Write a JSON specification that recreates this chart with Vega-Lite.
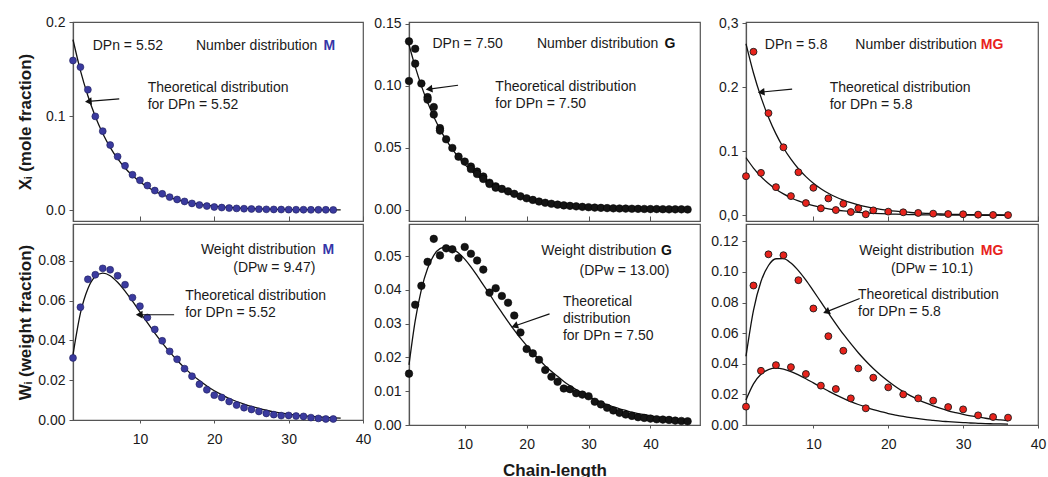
{
"$schema": "https://vega.github.io/schema/vega-lite/v6.json",
"padding": {"left": 15, "top": 14, "right": 5, "bottom": 5},
"background": "white",
"spacing": 0,
"vconcat": [
{"hconcat": [
{"width": 290, "height": 199,
 "encoding": {
  "x": {"field": "x", "type": "quantitative", "scale": {"domain": [1, 40], "nice": false, "zero": false}, "axis": {"values": [10, 20, 30, 40], "labels": false, "tickSize": -5, "title": null}},
  "y": {"field": "y", "type": "quantitative", "scale": {"domain": [-0.0117, 0.2], "nice": false, "zero": false}, "axis": {"values": [0, 0.1, 0.2], "format": ".1f", "title": "Xᵢ (mole fraction)", "minExtent": 35, "maxExtent": 35, "titlePadding": 4}}
 },
 "layer": [
  {"data": {"name": "tl_fit"}, "mark": {"type": "line", "color": "#111", "strokeWidth": 1.3, "interpolate": "monotone"}, "encoding": {}},
  {"data": {"name": "tl_pts"}, "mark": {"type": "point", "filled": true, "size": 48, "fill": "#3a3a9e", "stroke": "#1d1d5c", "strokeWidth": 0.6, "opacity": 1}},
  {"data": {"name": "tl_txt"}, "mark": {"type": "text"}, "encoding": {"text": {"field": "label"}}},
  {"data": {"name": "tl_tag"}, "mark": {"type": "text", "fontWeight": "bold", "color": "#3535a8"}, "encoding": {"text": {"field": "label"}}},
  {"data": {"name": "tl_arrow"}, "mark": {"type": "rule", "color": "#111", "strokeWidth": 1.2}, "encoding": {"x2": {"field": "x2"}, "y2": {"field": "y2"}}},
  {"data": {"name": "tl_head"}, "mark": {"type": "point", "shape": "triangle-left", "filled": true, "color": "#111", "size": 60, "angle": 355, "opacity": 1}}
 ]},
{"width": 291, "height": 199,
 "encoding": {
  "x": {"field": "x", "type": "quantitative", "scale": {"domain": [1, 48], "nice": false, "zero": false}, "axis": {"values": [10, 20, 30, 40], "labels": false, "tickSize": -5, "title": null}},
  "y": {"field": "y", "type": "quantitative", "scale": {"domain": [-0.0089, 0.1516], "nice": false, "zero": false}, "axis": {"values": [0, 0.05, 0.1, 0.15], "format": ".2f", "title": null}}
 },
 "layer": [
  {"data": {"name": "tm_fit"}, "mark": {"type": "line", "color": "#111", "strokeWidth": 1.3, "interpolate": "monotone"}, "encoding": {}},
  {"data": {"name": "tm_pts"}, "mark": {"type": "point", "filled": true, "size": 58, "fill": "#141414", "stroke": "#000", "strokeWidth": 0.5, "opacity": 1}},
  {"data": {"name": "tm_txt"}, "mark": {"type": "text"}, "encoding": {"text": {"field": "label"}}},
  {"data": {"name": "tm_tag"}, "mark": {"type": "text", "fontWeight": "bold", "color": "#111"}, "encoding": {"text": {"field": "label"}}},
  {"data": {"name": "tm_arrow"}, "mark": {"type": "rule", "color": "#111", "strokeWidth": 1.2}, "encoding": {"x2": {"field": "x2"}, "y2": {"field": "y2"}}},
  {"data": {"name": "tm_head"}, "mark": {"type": "point", "shape": "triangle-left", "filled": true, "color": "#111", "size": 60, "angle": 352, "opacity": 1}}
 ]},
{"width": 292, "height": 199,
 "encoding": {
  "x": {"field": "x", "type": "quantitative", "scale": {"domain": [1, 40], "nice": false, "zero": false}, "axis": {"values": [10, 20, 30, 40], "labels": false, "tickSize": -5, "title": null}},
  "y": {"field": "y", "type": "quantitative", "scale": {"domain": [-0.0089, 0.302], "nice": false, "zero": false}, "axis": {"values": [0, 0.1, 0.2, 0.3], "labelExpr": "datum.value == 0.3 ? '0,3' : datum.value == 0 ? '0,0' : format(datum.value, '.1f')", "title": null}}
 },
 "layer": [
  {"data": {"name": "tr_fit"}, "mark": {"type": "line", "color": "#111", "strokeWidth": 1.3, "interpolate": "monotone"}, "encoding": {"detail": {"field": "s"}}},
  {"data": {"name": "tr_pts"}, "mark": {"type": "point", "filled": true, "size": 48, "fill": "#e8231c", "stroke": "#1a1a1a", "strokeWidth": 0.9, "opacity": 1}},
  {"data": {"name": "tr_txt"}, "mark": {"type": "text"}, "encoding": {"text": {"field": "label"}}},
  {"data": {"name": "tr_tag"}, "mark": {"type": "text", "fontWeight": "bold", "color": "#e8231c"}, "encoding": {"text": {"field": "label"}}},
  {"data": {"name": "tr_arrow"}, "mark": {"type": "rule", "color": "#111", "strokeWidth": 1.2}, "encoding": {"x2": {"field": "x2"}, "y2": {"field": "y2"}}},
  {"data": {"name": "tr_head"}, "mark": {"type": "point", "shape": "triangle-left", "filled": true, "color": "#111", "size": 60, "angle": 354.5, "opacity": 1}}
 ]}
], "spacing": 46, "bounds": "flush"},
{"hconcat": [
{"width": 290, "height": 196,
 "encoding": {
  "x": {"field": "x", "type": "quantitative", "scale": {"domain": [1, 40], "nice": false, "zero": false}, "axis": {"values": [10, 20, 30, 40], "tickSize": 3, "labelPadding": 9, "labelFlush": false, "labelOverlap": false, "title": null}},
  "y": {"field": "y", "type": "quantitative", "scale": {"domain": [0, 0.0985], "nice": false, "zero": false}, "axis": {"values": [0, 0.02, 0.04, 0.06, 0.08], "format": ".2f", "title": "Wᵢ (weight fraction)", "minExtent": 35, "maxExtent": 35, "titlePadding": 4}}
 },
 "layer": [
  {"data": {"name": "bl_fit"}, "mark": {"type": "line", "color": "#111", "strokeWidth": 1.3, "interpolate": "monotone"}, "encoding": {}},
  {"data": {"name": "bl_pts"}, "mark": {"type": "point", "filled": true, "size": 48, "fill": "#3a3a9e", "stroke": "#1d1d5c", "strokeWidth": 0.6, "opacity": 1}},
  {"data": {"name": "bl_txt"}, "mark": {"type": "text"}, "encoding": {"text": {"field": "label"}}},
  {"data": {"name": "bl_tag"}, "mark": {"type": "text", "fontWeight": "bold", "color": "#3535a8"}, "encoding": {"text": {"field": "label"}}},
  {"data": {"name": "bl_arrow"}, "mark": {"type": "rule", "color": "#111", "strokeWidth": 1.2}, "encoding": {"x2": {"field": "x2"}, "y2": {"field": "y2"}}},
  {"data": {"name": "bl_head"}, "mark": {"type": "point", "shape": "triangle-left", "filled": true, "color": "#111", "size": 60, "angle": 0, "opacity": 1}}
 ]},
{"width": 291, "height": 201,
 "encoding": {
  "x": {"field": "x", "type": "quantitative", "scale": {"domain": [1, 48], "nice": false, "zero": false}, "axis": {"values": [10, 20, 30, 40], "tickSize": 3, "labelPadding": 9, "labelFlush": false, "labelOverlap": false, "title": "Chain-length", "titlePadding": 11}},
  "y": {"field": "y", "type": "quantitative", "scale": {"domain": [0, 0.0595], "nice": false, "zero": false}, "axis": {"values": [0, 0.01, 0.02, 0.03, 0.04, 0.05], "format": ".2f", "title": null}}
 },
 "layer": [
  {"data": {"name": "bm_fit"}, "mark": {"type": "line", "color": "#111", "strokeWidth": 1.3, "interpolate": "monotone"}, "encoding": {}},
  {"data": {"name": "bm_pts"}, "mark": {"type": "point", "filled": true, "size": 58, "fill": "#141414", "stroke": "#000", "strokeWidth": 0.5, "opacity": 1}},
  {"data": {"name": "bm_txt"}, "mark": {"type": "text"}, "encoding": {"text": {"field": "label"}}},
  {"data": {"name": "bm_tag"}, "mark": {"type": "text", "fontWeight": "bold", "color": "#111"}, "encoding": {"text": {"field": "label"}}},
  {"data": {"name": "bm_arrow"}, "mark": {"type": "rule", "color": "#111", "strokeWidth": 1.2}, "encoding": {"x2": {"field": "x2"}, "y2": {"field": "y2"}}},
  {"data": {"name": "bm_head"}, "mark": {"type": "point", "shape": "triangle-left", "filled": true, "color": "#111", "size": 60, "angle": 340.6, "opacity": 1}}
 ]},
{"width": 292, "height": 201,
 "encoding": {
  "x": {"field": "x", "type": "quantitative", "scale": {"domain": [1, 40], "nice": false, "zero": false}, "axis": {"values": [10, 20, 30, 40], "tickSize": 3, "labelPadding": 9, "labelFlush": false, "labelOverlap": false, "title": null}},
  "y": {"field": "y", "type": "quantitative", "scale": {"domain": [0, 0.1313], "nice": false, "zero": false}, "axis": {"values": [0, 0.02, 0.04, 0.06, 0.08, 0.1, 0.12], "format": ".2f", "title": null}}
 },
 "layer": [
  {"data": {"name": "br_fit"}, "mark": {"type": "line", "color": "#111", "strokeWidth": 1.3, "interpolate": "monotone"}, "encoding": {"detail": {"field": "s"}}},
  {"data": {"name": "br_pts"}, "mark": {"type": "point", "filled": true, "size": 48, "fill": "#e8231c", "stroke": "#1a1a1a", "strokeWidth": 0.9, "opacity": 1}},
  {"data": {"name": "br_txt"}, "mark": {"type": "text"}, "encoding": {"text": {"field": "label"}}},
  {"data": {"name": "br_tag"}, "mark": {"type": "text", "fontWeight": "bold", "color": "#e8231c"}, "encoding": {"text": {"field": "label"}}},
  {"data": {"name": "br_arrow"}, "mark": {"type": "rule", "color": "#111", "strokeWidth": 1.2}, "encoding": {"x2": {"field": "x2"}, "y2": {"field": "y2"}}},
  {"data": {"name": "br_head"}, "mark": {"type": "point", "shape": "triangle-left", "filled": true, "color": "#111", "size": 60, "angle": 338.2, "opacity": 1}}
 ]}
], "spacing": 46, "bounds": "flush"}
],
"datasets": {
"tl_pts": [{"x":1,"y":0.159},{"x":2,"y":0.152},{"x":3,"y":0.128},{"x":4,"y":0.0996},{"x":5,"y":0.0839},{"x":6,"y":0.0691},{"x":7,"y":0.0568},{"x":8,"y":0.047},{"x":9,"y":0.0375},{"x":10,"y":0.0316},{"x":11,"y":0.026},{"x":12,"y":0.0207},{"x":13,"y":0.0172},{"x":14,"y":0.0137},{"x":15,"y":0.0112},{"x":16,"y":0.0091},{"x":17,"y":0.007},{"x":18,"y":0.0053},{"x":19,"y":0.0042},{"x":20,"y":0.0032},{"x":21,"y":0.0026},{"x":22,"y":0.0021},{"x":23,"y":0.0017},{"x":24,"y":0.0014},{"x":25,"y":0.0011},{"x":26,"y":0.0009},{"x":27,"y":0.0007},{"x":28,"y":0.0006},{"x":29,"y":0.0005},{"x":30,"y":0.0004},{"x":31,"y":0.0003},{"x":32,"y":0.0003},{"x":33,"y":0.0002},{"x":34,"y":0.0002},{"x":35,"y":0.0002},{"x":36,"y":0.0001}],
"tl_fit": [{"x":1,"y":0.1812},{"x":2,"y":0.1483},{"x":3,"y":0.1215},{"x":4,"y":0.0995},{"x":5,"y":0.0814},{"x":6,"y":0.0667},{"x":7,"y":0.0546},{"x":8,"y":0.0447},{"x":9,"y":0.0366},{"x":10,"y":0.03},{"x":11,"y":0.0245},{"x":12,"y":0.0201},{"x":13,"y":0.0165},{"x":14,"y":0.0135},{"x":15,"y":0.011},{"x":16,"y":0.009},{"x":17,"y":0.0074},{"x":18,"y":0.0061},{"x":19,"y":0.005},{"x":20,"y":0.0041},{"x":21,"y":0.0033},{"x":22,"y":0.0027},{"x":23,"y":0.0022},{"x":24,"y":0.0018},{"x":25,"y":0.0015},{"x":26,"y":0.0012},{"x":27,"y":0.001},{"x":28,"y":0.0008},{"x":29,"y":0.0007},{"x":30,"y":0.0005},{"x":31,"y":0.0004},{"x":32,"y":0.0004},{"x":33,"y":0.0003},{"x":34,"y":0.0002},{"x":35,"y":0.0002},{"x":36,"y":0.0002},{"x":37,"y":0.0001}],
"tl_txt": [{"x":3.65,"y":0.1744,"label":"DPn = 5.52"},{"x":17.53,"y":0.1744,"label":"Number distribution"},{"x":11.04,"y":0.1295,"label":"Theoretical distribution"},{"x":11.04,"y":0.1119,"label":"for DPn = 5.52"}],
"tl_tag": [{"x":34.7,"y":0.1744,"label":"M"}],
"tl_arrow": [{"x":7.22,"y":0.1182,"x2":3.06,"y2":0.1155}],
"tl_head": [{"x":3.06,"y":0.1155}],
"bl_pts": [{"x":1,"y":0.0312},{"x":2,"y":0.0567},{"x":3,"y":0.0707},{"x":4,"y":0.073},{"x":5,"y":0.0762},{"x":6,"y":0.0755},{"x":7,"y":0.0725},{"x":8,"y":0.068},{"x":9,"y":0.0615},{"x":10,"y":0.0572},{"x":11,"y":0.0515},{"x":12,"y":0.0455},{"x":13,"y":0.0398},{"x":14,"y":0.0345},{"x":15,"y":0.0305},{"x":16,"y":0.0258},{"x":17,"y":0.022},{"x":18,"y":0.018},{"x":19,"y":0.0152},{"x":20,"y":0.0125},{"x":21,"y":0.0113},{"x":22,"y":0.0093},{"x":23,"y":0.0075},{"x":24,"y":0.0062},{"x":25,"y":0.0053},{"x":26,"y":0.0043},{"x":27,"y":0.0033},{"x":28,"y":0.0027},{"x":29,"y":0.0022},{"x":30,"y":0.0023},{"x":31,"y":0.002},{"x":32,"y":0.0018},{"x":33,"y":0.0012},{"x":34,"y":0.0008},{"x":35,"y":0.0005},{"x":36,"y":0.0005}],
"bl_fit": [{"x":1,"y":0.0328},{"x":2,"y":0.0537},{"x":3,"y":0.066},{"x":4,"y":0.0721},{"x":5,"y":0.0738},{"x":6,"y":0.0725},{"x":7,"y":0.0692},{"x":8,"y":0.0648},{"x":9,"y":0.0597},{"x":10,"y":0.0543},{"x":11,"y":0.0489},{"x":12,"y":0.0437},{"x":13,"y":0.0388},{"x":14,"y":0.0342},{"x":15,"y":0.03},{"x":16,"y":0.0262},{"x":17,"y":0.0228},{"x":18,"y":0.0198},{"x":19,"y":0.0171},{"x":20,"y":0.0147},{"x":21,"y":0.0127},{"x":22,"y":0.0108},{"x":23,"y":0.0093},{"x":24,"y":0.008},{"x":25,"y":0.0068},{"x":26,"y":0.0058},{"x":27,"y":0.0049},{"x":28,"y":0.0041},{"x":29,"y":0.0035},{"x":30,"y":0.003},{"x":31,"y":0.0025},{"x":32,"y":0.0021},{"x":33,"y":0.0018},{"x":34,"y":0.0016},{"x":35,"y":0.0013},{"x":36,"y":0.0011},{"x":37,"y":0.0009}],
"bl_txt": [{"x":18.2,"y":0.0855,"label":"Weight distribution"},{"x":22.55,"y":0.0762,"label":"(DPw = 9.47)"},{"x":16.09,"y":0.0625,"label":"Theoretical distribution"},{"x":16.09,"y":0.0539,"label":"for DPn = 5.52"}],
"bl_tag": [{"x":34.56,"y":0.0855,"label":"M"}],
"bl_arrow": [{"x":14.6,"y":0.0529,"x2":9.9,"y2":0.0529}],
"bl_head": [{"x":9.9,"y":0.0529}],
"tm_pts": [{"x":1,"y":0.136},{"x":1,"y":0.104},{"x":2,"y":0.13},{"x":2,"y":0.118},{"x":3,"y":0.102},{"x":4,"y":0.091},{"x":4,"y":0.089},{"x":5,"y":0.083},{"x":5,"y":0.077},{"x":6,"y":0.066},{"x":6,"y":0.064},{"x":7,"y":0.057},{"x":8,"y":0.05},{"x":9,"y":0.043},{"x":10,"y":0.039},{"x":11,"y":0.035},{"x":11,"y":0.033},{"x":12,"y":0.031},{"x":12,"y":0.029},{"x":13,"y":0.027},{"x":13,"y":0.025},{"x":14,"y":0.022},{"x":14,"y":0.021},{"x":15,"y":0.019},{"x":15,"y":0.018},{"x":16,"y":0.017},{"x":17,"y":0.015},{"x":18,"y":0.013},{"x":19,"y":0.011},{"x":20,"y":0.0094},{"x":21,"y":0.0081},{"x":22,"y":0.0068},{"x":23,"y":0.0058},{"x":24,"y":0.005},{"x":25,"y":0.0043},{"x":26,"y":0.0037},{"x":27,"y":0.0033},{"x":28,"y":0.0029},{"x":29,"y":0.0025},{"x":30,"y":0.0022},{"x":31,"y":0.0019},{"x":32,"y":0.0017},{"x":33,"y":0.0015},{"x":34,"y":0.0013},{"x":35,"y":0.0012},{"x":36,"y":0.0011},{"x":37,"y":0.001},{"x":38,"y":0.0009},{"x":39,"y":0.0008},{"x":40,"y":0.0007},{"x":41,"y":0.0007},{"x":42,"y":0.0006},{"x":43,"y":0.0005},{"x":44,"y":0.0005},{"x":45,"y":0.0005},{"x":46,"y":0.0004}],
"tm_fit": [{"x":1,"y":0.1333},{"x":2,"y":0.1156},{"x":3,"y":0.1001},{"x":4,"y":0.0868},{"x":5,"y":0.0752},{"x":6,"y":0.0652},{"x":7,"y":0.0565},{"x":8,"y":0.049},{"x":9,"y":0.0424},{"x":10,"y":0.0368},{"x":11,"y":0.0319},{"x":12,"y":0.0276},{"x":13,"y":0.0239},{"x":14,"y":0.0207},{"x":15,"y":0.018},{"x":16,"y":0.0156},{"x":17,"y":0.0135},{"x":18,"y":0.0117},{"x":19,"y":0.0101},{"x":20,"y":0.0088},{"x":21,"y":0.0076},{"x":22,"y":0.0066},{"x":23,"y":0.0057},{"x":24,"y":0.005},{"x":25,"y":0.0043},{"x":26,"y":0.0037},{"x":27,"y":0.0032},{"x":28,"y":0.0028},{"x":29,"y":0.0024},{"x":30,"y":0.0021},{"x":31,"y":0.0018},{"x":32,"y":0.0016},{"x":33,"y":0.0014},{"x":34,"y":0.0012},{"x":35,"y":0.001},{"x":36,"y":0.0009},{"x":37,"y":0.0008},{"x":38,"y":0.0007},{"x":39,"y":0.0006},{"x":40,"y":0.0005},{"x":41,"y":0.0004},{"x":42,"y":0.0004},{"x":43,"y":0.0003},{"x":44,"y":0.0003},{"x":45,"y":0.0002},{"x":46,"y":0.0002}],
"tm_txt": [{"x":4.79,"y":0.1336,"label":"DPn = 7.50"},{"x":21.66,"y":0.1336,"label":"Number distribution"},{"x":14.95,"y":0.0992,"label":"Theoretical distribution"},{"x":14.95,"y":0.0857,"label":"for DPn = 7.50"}],
"tm_tag": [{"x":42.26,"y":0.1336,"label":"G"}],
"tm_arrow": [{"x":8.92,"y":0.1006,"x2":4.24,"y2":0.0975}],
"tm_head": [{"x":4.24,"y":0.0975}],
"bm_pts": [{"x":1,"y":0.0152},{"x":2,"y":0.0356},{"x":3,"y":0.0412},{"x":4,"y":0.0483},{"x":5,"y":0.0551},{"x":6,"y":0.0502},{"x":7,"y":0.0523},{"x":8,"y":0.052},{"x":9,"y":0.0494},{"x":10,"y":0.0527},{"x":11,"y":0.0507},{"x":12,"y":0.0487},{"x":13,"y":0.046},{"x":14,"y":0.0392},{"x":15,"y":0.0405},{"x":16,"y":0.0382},{"x":17,"y":0.0362},{"x":18,"y":0.0324},{"x":19,"y":0.0274},{"x":20,"y":0.0225},{"x":21,"y":0.0212},{"x":22,"y":0.0193},{"x":23,"y":0.0163},{"x":24,"y":0.0143},{"x":25,"y":0.0128},{"x":26,"y":0.0108},{"x":27,"y":0.0106},{"x":28,"y":0.0094},{"x":29,"y":0.009},{"x":30,"y":0.0085},{"x":31,"y":0.0069},{"x":32,"y":0.0061},{"x":33,"y":0.0051},{"x":34,"y":0.0043},{"x":35,"y":0.0036},{"x":36,"y":0.0031},{"x":37,"y":0.0027},{"x":38,"y":0.0023},{"x":39,"y":0.0021},{"x":40,"y":0.0019},{"x":41,"y":0.0017},{"x":42,"y":0.0016},{"x":43,"y":0.0015},{"x":44,"y":0.0013},{"x":45,"y":0.0012},{"x":46,"y":0.0011}],
"bm_fit": [{"x":1,"y":0.0178},{"x":2,"y":0.0308},{"x":3,"y":0.0401},{"x":4,"y":0.0463},{"x":5,"y":0.0502},{"x":6,"y":0.0522},{"x":7,"y":0.0527},{"x":8,"y":0.0522},{"x":9,"y":0.0509},{"x":10,"y":0.0491},{"x":11,"y":0.0468},{"x":12,"y":0.0442},{"x":13,"y":0.0415},{"x":14,"y":0.0388},{"x":15,"y":0.0359},{"x":16,"y":0.0333},{"x":17,"y":0.0306},{"x":18,"y":0.0281},{"x":19,"y":0.0257},{"x":20,"y":0.0235},{"x":21,"y":0.0214},{"x":22,"y":0.0194},{"x":23,"y":0.0175},{"x":24,"y":0.0159},{"x":25,"y":0.0144},{"x":26,"y":0.0129},{"x":27,"y":0.0116},{"x":28,"y":0.0105},{"x":29,"y":0.0094},{"x":30,"y":0.0084},{"x":31,"y":0.0076},{"x":32,"y":0.0067},{"x":33,"y":0.006},{"x":34,"y":0.0054},{"x":35,"y":0.0048},{"x":36,"y":0.0043},{"x":37,"y":0.0038},{"x":38,"y":0.0034},{"x":39,"y":0.0031},{"x":40,"y":0.0027},{"x":41,"y":0.0024},{"x":42,"y":0.0021},{"x":43,"y":0.0019},{"x":44,"y":0.0016},{"x":45,"y":0.0014},{"x":46,"y":0.0013}],
"bm_txt": [{"x":22.37,"y":0.0515,"label":"Weight distribution"},{"x":28.55,"y":0.0456,"label":"(DPw = 13.00)"},{"x":25.86,"y":0.0365,"label":"Theoretical"},{"x":25.86,"y":0.0314,"label":"distribution"},{"x":25.86,"y":0.0264,"label":"for DPn = 7.50"}],
"bm_tag": [{"x":41.7,"y":0.0515,"label":"G"}],
"bm_arrow": [{"x":23.7,"y":0.0329,"x2":18.06,"y2":0.0293}],
"bm_head": [{"x":18.06,"y":0.0293}],
"tr_pts": [{"x":2,"y":0.2555},{"x":4,"y":0.1596},{"x":6,"y":0.1062},{"x":8,"y":0.0673},{"x":10,"y":0.043},{"x":12,"y":0.0264},{"x":14,"y":0.018},{"x":16,"y":0.0109},{"x":18,"y":0.0077},{"x":20,"y":0.0057},{"x":22,"y":0.0047},{"x":24,"y":0.0037},{"x":26,"y":0.0026},{"x":28,"y":0.002},{"x":30,"y":0.0016},{"x":32,"y":0.001},{"x":34,"y":0.0005},{"x":36,"y":0.0003},{"x":1,"y":0.0611},{"x":3,"y":0.0663},{"x":5,"y":0.044},{"x":7,"y":0.03},{"x":9,"y":0.0191},{"x":11,"y":0.0109},{"x":13,"y":0.0082},{"x":15,"y":0.0051},{"x":17,"y":0.0016}],
"tr_fit": [{"s":"a","x":1,"y":0.268},{"s":"a","x":2,"y":0.2224},{"s":"a","x":3,"y":0.1846},{"s":"a","x":4,"y":0.1532},{"s":"a","x":5,"y":0.1272},{"s":"a","x":6,"y":0.1056},{"s":"a","x":7,"y":0.0876},{"s":"a","x":8,"y":0.0727},{"s":"a","x":9,"y":0.0604},{"s":"a","x":10,"y":0.0501},{"s":"a","x":11,"y":0.0416},{"s":"a","x":12,"y":0.0345},{"s":"a","x":13,"y":0.0286},{"s":"a","x":14,"y":0.0238},{"s":"a","x":15,"y":0.0197},{"s":"a","x":16,"y":0.0164},{"s":"a","x":17,"y":0.0136},{"s":"a","x":18,"y":0.0113},{"s":"a","x":19,"y":0.0094},{"s":"a","x":20,"y":0.0078},{"s":"a","x":21,"y":0.0065},{"s":"a","x":22,"y":0.0054},{"s":"a","x":23,"y":0.0044},{"s":"a","x":24,"y":0.0037},{"s":"a","x":25,"y":0.0031},{"s":"a","x":26,"y":0.0025},{"s":"a","x":27,"y":0.0021},{"s":"a","x":28,"y":0.0017},{"s":"a","x":29,"y":0.0015},{"s":"a","x":30,"y":0.0012},{"s":"a","x":31,"y":0.001},{"s":"a","x":32,"y":0.0008},{"s":"a","x":33,"y":0.0007},{"s":"a","x":34,"y":0.0006},{"s":"a","x":35,"y":0.0005},{"s":"a","x":36,"y":0.0004},
{"s":"b","x":1,"y":0.09},{"s":"b","x":2,"y":0.0738},{"s":"b","x":3,"y":0.0605},{"s":"b","x":4,"y":0.0496},{"s":"b","x":5,"y":0.0407},{"s":"b","x":6,"y":0.0334},{"s":"b","x":7,"y":0.0274},{"s":"b","x":8,"y":0.0224},{"s":"b","x":9,"y":0.0184},{"s":"b","x":10,"y":0.0151},{"s":"b","x":11,"y":0.0124},{"s":"b","x":12,"y":0.0101},{"s":"b","x":13,"y":0.0083},{"s":"b","x":14,"y":0.0068},{"s":"b","x":15,"y":0.0056},{"s":"b","x":16,"y":0.0046},{"s":"b","x":17,"y":0.0038},{"s":"b","x":18,"y":0.0031},{"s":"b","x":19,"y":0.0025},{"s":"b","x":20,"y":0.0021},{"s":"b","x":21,"y":0.0017},{"s":"b","x":22,"y":0.0014},{"s":"b","x":23,"y":0.0011},{"s":"b","x":24,"y":0.0009},{"s":"b","x":25,"y":0.0008},{"s":"b","x":26,"y":0.0006},{"s":"b","x":27,"y":0.0005},{"s":"b","x":28,"y":0.0004},{"s":"b","x":29,"y":0.0003},{"s":"b","x":30,"y":0.0003},{"s":"b","x":31,"y":0.0002},{"s":"b","x":32,"y":0.0002},{"s":"b","x":33,"y":0.0001},{"s":"b","x":34,"y":0.0001},{"s":"b","x":35,"y":0.0001},{"s":"b","x":36,"y":0.0001}],
"tr_txt": [{"x":3.51,"y":0.266,"label":"DPn = 5.8"},{"x":15.6,"y":0.266,"label":"Number distribution"},{"x":12.18,"y":0.1995,"label":"Theoretical distribution"},{"x":12.18,"y":0.1726,"label":"for DPn = 5.8"}],
"tr_tag": [{"x":32.36,"y":0.266,"label":"MG"}],
"tr_arrow": [{"x":7.16,"y":0.197,"x2":3.03,"y2":0.1925}],
"tr_head": [{"x":3.03,"y":0.1925}],
"br_pts": [{"x":2,"y":0.0911},{"x":4,"y":0.1115},{"x":6,"y":0.1109},{"x":8,"y":0.0946},{"x":10,"y":0.0761},{"x":12,"y":0.058},{"x":14,"y":0.0485},{"x":16,"y":0.037},{"x":18,"y":0.0309},{"x":20,"y":0.0246},{"x":22,"y":0.02},{"x":24,"y":0.0174},{"x":26,"y":0.0159},{"x":28,"y":0.0117},{"x":30,"y":0.0102},{"x":32,"y":0.0063},{"x":34,"y":0.0052},{"x":36,"y":0.0048},{"x":1,"y":0.012},{"x":3,"y":0.0354},{"x":5,"y":0.0391},{"x":7,"y":0.0378},{"x":9,"y":0.0333},{"x":11,"y":0.0257},{"x":13,"y":0.0235},{"x":15,"y":0.0174},{"x":17,"y":0.0109}],
"br_fit": [{"s":"a","x":1,"y":0.0449},{"s":"a","x":2,"y":0.0749},{"s":"a","x":3,"y":0.0937},{"s":"a","x":4,"y":0.1042},{"s":"a","x":5,"y":0.1086},{"s":"a","x":6,"y":0.1087},{"s":"a","x":7,"y":0.1058},{"s":"a","x":8,"y":0.1008},{"s":"a","x":9,"y":0.0946},{"s":"a","x":10,"y":0.0876},{"s":"a","x":11,"y":0.0804},{"s":"a","x":12,"y":0.0732},{"s":"a","x":13,"y":0.0661},{"s":"a","x":14,"y":0.0593},{"s":"a","x":15,"y":0.0531},{"s":"a","x":16,"y":0.0472},{"s":"a","x":17,"y":0.0418},{"s":"a","x":18,"y":0.0369},{"s":"a","x":19,"y":0.0325},{"s":"a","x":20,"y":0.0286},{"s":"a","x":21,"y":0.025},{"s":"a","x":22,"y":0.0218},{"s":"a","x":23,"y":0.019},{"s":"a","x":24,"y":0.0166},{"s":"a","x":25,"y":0.0144},{"s":"a","x":26,"y":0.0125},{"s":"a","x":27,"y":0.0108},{"s":"a","x":28,"y":0.0093},{"s":"a","x":29,"y":0.0081},{"s":"a","x":30,"y":0.007},{"s":"a","x":31,"y":0.006},{"s":"a","x":32,"y":0.0052},{"s":"a","x":33,"y":0.0044},{"s":"a","x":34,"y":0.0038},{"s":"a","x":35,"y":0.0033},{"s":"a","x":36,"y":0.0027},
{"s":"b","x":1,"y":0.0164},{"s":"b","x":2,"y":0.0269},{"s":"b","x":3,"y":0.0331},{"s":"b","x":4,"y":0.0362},{"s":"b","x":5,"y":0.0371},{"s":"b","x":6,"y":0.0365},{"s":"b","x":7,"y":0.0349},{"s":"b","x":8,"y":0.0327},{"s":"b","x":9,"y":0.0302},{"s":"b","x":10,"y":0.0275},{"s":"b","x":11,"y":0.0248},{"s":"b","x":12,"y":0.0222},{"s":"b","x":13,"y":0.0197},{"s":"b","x":14,"y":0.0174},{"s":"b","x":15,"y":0.0153},{"s":"b","x":16,"y":0.0134},{"s":"b","x":17,"y":0.0117},{"s":"b","x":18,"y":0.0101},{"s":"b","x":19,"y":0.0088},{"s":"b","x":20,"y":0.0075},{"s":"b","x":21,"y":0.0065},{"s":"b","x":22,"y":0.0056},{"s":"b","x":23,"y":0.0048},{"s":"b","x":24,"y":0.0041},{"s":"b","x":25,"y":0.0035},{"s":"b","x":26,"y":0.003},{"s":"b","x":27,"y":0.0025},{"s":"b","x":28,"y":0.0022},{"s":"b","x":29,"y":0.0019},{"s":"b","x":30,"y":0.0016},{"s":"b","x":31,"y":0.0013},{"s":"b","x":32,"y":0.0011},{"s":"b","x":33,"y":0.0009},{"s":"b","x":34,"y":0.0008},{"s":"b","x":35,"y":0.0007},{"s":"b","x":36,"y":0.0006}],
"br_txt": [{"x":16.13,"y":0.1137,"label":"Weight distribution"},{"x":20.36,"y":0.1022,"label":"(DPw = 10.1)"},{"x":15.96,"y":0.0848,"label":"Theoretical distribution"},{"x":15.96,"y":0.0739,"label":"for DPn = 5.8"}],
"br_tag": [{"x":32.36,"y":0.1137,"label":"MG"}],
"br_arrow": [{"x":16.18,"y":0.0826,"x2":11.73,"y2":0.0739}],
"br_head": [{"x":11.73,"y":0.0739}]
},
"config": {
 "font": "Liberation Sans",
 "view": {"stroke": "#555", "strokeWidth": 1.2},
 "axis": {"labelFont": "Liberation Sans", "labelFontSize": 14, "labelColor": "#1a1a1a", "domainColor": "#555", "domainWidth": 1.2, "tickColor": "#555", "grid": false, "titleFont": "Liberation Sans", "titleFontSize": 17, "titleFontWeight": "bold", "titleColor": "#1a1a1a"},
 "axisY": {"tickSize": 4, "labelPadding": 4},
 "text": {"font": "Liberation Sans", "fontSize": 14, "align": "left", "baseline": "middle", "color": "#1a1a1a"}
}
}
